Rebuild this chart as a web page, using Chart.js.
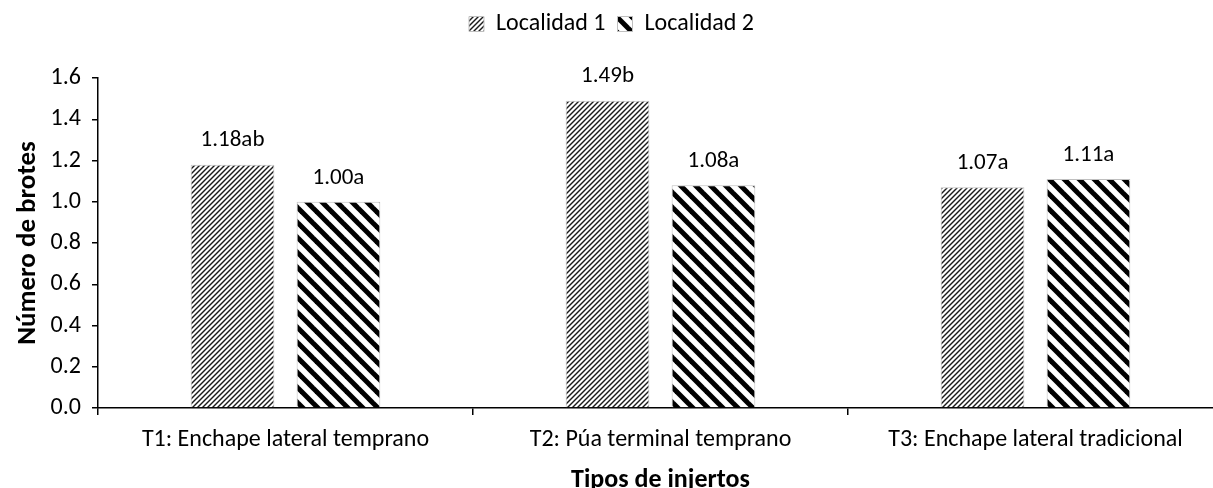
<!DOCTYPE html>
<html>
<head>
<meta charset="utf-8">
<script src="https://cdn.jsdelivr.net/npm/chart.js@4/dist/chart.umd.min.js"></script>
<style>
  body { margin: 0; overflow: hidden; background: #fff; }
  #wrap { width: 1240px; height: 496px; }
</style>
</head>
<body>
<div id="wrap"><canvas id="injertosChart"></canvas></div>
<script>
// data
const categories = ['T1: Enchape lateral temprano', 'T2: Púa terminal temprano', 'T3: Enchape lateral tradicional'];
const seriesNames = ['Localidad 1', 'Localidad 2'];
const localidad1 = [1.18, 1.49, 1.07];
const localidad2 = [1.00, 1.08, 1.11];
const labels1 = ['1.18ab', '1.49b', '1.07a'];
const labels2 = ['1.00a', '1.08a', '1.11a'];
const yMin = 0, yMax = 1.6, yStep = 0.2;

const fontFamily = 'Carlito, Calibri, Lato, sans-serif';

//hatch patterns, like the excel fills
function makeHatch(size, lineW, dir, color) {
  const c = document.createElement('canvas');
  c.width = size; c.height = size;
  const g = c.getContext('2d');
  g.fillStyle = '#fff';
  g.fillRect(0, 0, size, size);
  g.strokeStyle = color;
  g.lineWidth = lineW;
  for (let o = -size; o <= size; o += size) {
    g.beginPath();
    //lines run past the tile so the caps dont leave gaps
    if (dir === '/') {
      g.moveTo(o - size, 2 * size); g.lineTo(o + 2 * size, -size);
    } else {
      g.moveTo(o - size, -size); g.lineTo(o + 2 * size, 2 * size);
    }
    g.stroke();
  }
  return g.createPattern(c, 'repeat');
}

const ctx = document.getElementById('injertosChart').getContext('2d');
const fill1 = makeHatch(5, 1.4, '/', '#1a1a1a');
const fill2 = makeHatch(15, 5, '\\', '#000');

//letters above each bar
const barLabels = {
  id: 'barLabels',
  afterDatasetsDraw(chart) {
    const c = chart.ctx;
    const texts = [labels1, labels2];
    c.save();
    c.font = '23px ' + fontFamily;
    c.fillStyle = '#000';
    c.textAlign = 'center';
    c.textBaseline = 'middle';
    chart.data.datasets.forEach((ds, i) => {
      chart.getDatasetMeta(i).data.forEach((bar, j) => {
        c.fillText(texts[i][j], bar.x, bar.y - 24);
      });
    });
    c.restore();
  }
};

//push the plot down from the legend
const legendGap = {
  id: 'legendGap',
  beforeInit(chart) {
    const fit = chart.legend.fit;
    chart.legend.fit = function () {
      fit.call(this);
      this.height += 32;
    };
  }
};

new Chart(ctx, {
  type: 'bar',
  data: {
    labels: categories,
    datasets: [
      {
        label: seriesNames[0],
        data: localidad1,
        backgroundColor: fill1,
        borderColor: '#bfbfbf',
        borderWidth: 1,
      },
      {
        label: seriesNames[1],
        data: localidad2,
        backgroundColor: fill2,
        borderColor: '#bfbfbf',
        borderWidth: 1,
      },
    ]
  },
  options: {
    responsive: true,
    maintainAspectRatio: false,
    animation: false,
    layout: { padding: { top: 0, right: 17, left: 0, bottom: 0 } },
    datasets: {
      bar: { categoryPercentage: 0.565, barPercentage: 0.79 }
    },
    plugins: {
      legend: {
        position: 'top',
        labels: {
          color: '#000',
          font: { family: fontFamily, size: 24 },
          boxWidth: 15,
          boxHeight: 15,
          padding: 12,
        }
      },
      tooltip: { enabled: false },
    },
    scales: {
      x: {
        grid: { offset: true, drawOnChartArea: false, drawTicks: true, tickLength: 7, color: '#000', lineWidth: 1.5 },
        border: { color: '#000', width: 1.5 },
        ticks: { color: '#000', font: { family: fontFamily, size: 24 }, padding: 11, maxRotation: 0 },
        title: {
          display: true,
          text: 'Tipos de injertos',
          color: '#000',
          font: { family: fontFamily, size: 26, weight: 'bold' },
          padding: { top: 2, bottom: 0 },
        },
        afterFit: s => { s.height = 88; },
      },
      y: {
        min: yMin,
        max: yMax,
        ticks: {
          stepSize: yStep,
          color: '#000',
          font: { family: fontFamily, size: 24 },
          padding: 11,
          callback: v => v.toFixed(1),
        },
        grid: { drawOnChartArea: false, drawTicks: true, tickLength: 6, color: '#000', lineWidth: 1.5 },
        border: { color: '#000', width: 1.5 },
        title: {
          display: true,
          text: 'Número de brotes',
          color: '#000',
          font: { family: fontFamily, size: 27, weight: 'bold' },
          padding: { top: 12, bottom: 0 },
        },
        afterFit: s => { s.width = 98; },
      }
    }
  },
  plugins: [barLabels, legendGap]
});
</script>
</body>
</html>
